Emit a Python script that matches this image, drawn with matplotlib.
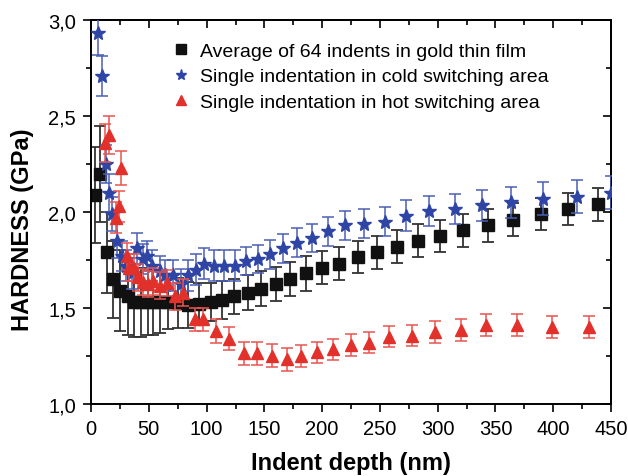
import matplotlib.pyplot as plt
from matplotlib.lines import Line2D
from matplotlib.ticker import MultipleLocator, FuncFormatter

plt.rcParams["font.family"] = ["Liberation Sans", "DejaVu Sans"]

# average of 64 indents (black squares)
avg_x = [3.5, 7.8, 13.8, 19, 25, 32, 37, 43, 49, 54, 60, 67, 75, 84, 93.5, 104, 113.5, 124,
         136, 147, 160, 172, 186, 200, 215, 231, 247.5, 265, 283, 302, 322, 343.5, 365, 389, 413, 439]
avg_y = [2.09, 2.20, 1.79, 1.65, 1.59, 1.56, 1.53, 1.53, 1.53, 1.53, 1.53, 1.53, 1.525, 1.515,
         1.52, 1.53, 1.54, 1.56, 1.58, 1.60, 1.625, 1.65, 1.68, 1.71, 1.73, 1.765, 1.79, 1.82,
         1.85, 1.875, 1.905, 1.93, 1.96, 1.99, 2.015, 2.04]
avg_err = [0.25, 0.25, 0.21, 0.20, 0.21, 0.20, 0.18, 0.18, 0.17, 0.17, 0.16, 0.14, 0.13, 0.12,
           0.11, 0.10, 0.10, 0.09, 0.09, 0.09, 0.09, 0.09, 0.09, 0.085, 0.085, 0.085, 0.085,
           0.085, 0.085, 0.085, 0.085, 0.085, 0.085, 0.085, 0.085, 0.085]

# single indentation, cold switching area (blue stars)
cold_x = [6.1, 9.6, 13, 15.6, 18, 22.5, 26.5, 30, 35.5, 40, 45, 48, 53, 60, 64, 71, 78, 84, 91,
          98, 106, 115, 124.6, 134, 144.5, 155, 166, 178, 191, 205, 220, 236, 254.5, 272.6,
          292.5, 315, 338, 363, 391, 420.5, 450]
cold_y = [2.93, 2.71, 2.25, 2.10, 1.99, 1.85, 1.77, 1.72, 1.68, 1.81, 1.755, 1.77, 1.72, 1.69,
          1.67, 1.67, 1.625, 1.67, 1.70, 1.73, 1.72, 1.72, 1.72, 1.745, 1.755, 1.78, 1.81, 1.84,
          1.865, 1.90, 1.93, 1.94, 1.95, 1.98, 2.005, 2.015, 2.035, 2.05, 2.07, 2.08, 2.10]
cold_err = [0.11, 0.105, 0.10, 0.10, 0.09, 0.09, 0.08, 0.08, 0.08, 0.08, 0.08, 0.08, 0.08, 0.08,
            0.08, 0.08, 0.08, 0.08, 0.08, 0.08, 0.08, 0.08, 0.08, 0.075, 0.075, 0.075, 0.075,
            0.075, 0.075, 0.075, 0.075, 0.075, 0.075, 0.08, 0.08, 0.08, 0.08, 0.08, 0.085,
            0.085, 0.085]

# single indentation, hot switching area (red triangles)
hot_x = [12, 15.6, 21.5, 24, 26, 31, 33, 37, 41, 45, 49, 54, 60, 66, 73, 79.5, 90, 97, 108,
         119.5, 132, 143.6, 156.6, 169.6, 181.7, 195.6, 209.5, 225, 240.6, 258, 278, 297.7,
         320, 342, 368.6, 399, 431]
hot_y = [2.36, 2.40, 1.97, 2.03, 2.23, 1.77, 1.71, 1.71, 1.66, 1.635, 1.625, 1.64, 1.615, 1.63,
         1.56, 1.58, 1.44, 1.44, 1.38, 1.34, 1.265, 1.265, 1.25, 1.234, 1.25, 1.27, 1.286,
         1.307, 1.32, 1.35, 1.355, 1.375, 1.385, 1.41, 1.41, 1.40, 1.40]
hot_err = [0.10, 0.10, 0.08, 0.08, 0.09, 0.07, 0.07, 0.07, 0.07, 0.07, 0.07, 0.07, 0.07, 0.07,
           0.07, 0.07, 0.06, 0.06, 0.06, 0.06, 0.06, 0.06, 0.06, 0.06, 0.055, 0.055, 0.055,
           0.055, 0.055, 0.055, 0.055, 0.055, 0.055, 0.058, 0.058, 0.058, 0.058]

labels = ["Average of 64 indents in gold thin film",
          "Single indentation in cold switching area",
          "Single indentation in hot switching area"]

BLACK = "#111111"
BLUE = "#2e45a6"
RED = "#e2312a"

fig = plt.figure(figsize=(6.28, 4.77), dpi=100)
ax = fig.add_axes([0.145, 0.151, 0.828, 0.805])

ax.errorbar(avg_x, avg_y, yerr=avg_err, fmt="s", color=BLACK, ecolor="#333333",
            markersize=8, elinewidth=1.3, capsize=4.5, capthick=1.3, zorder=2)
ax.errorbar(cold_x, cold_y, yerr=cold_err, fmt="*", color=BLUE, ecolor="#4a5fb5",
            markersize=10, elinewidth=1.1, capsize=4.5, capthick=1.1, zorder=3)
ax.errorbar(hot_x, hot_y, yerr=hot_err, fmt="^", color=RED, ecolor="#e8554f",
            markersize=8.5, elinewidth=1.1, capsize=4.5, capthick=1.1, zorder=4)

ax.set_xlim(0, 450)
ax.set_ylim(1.0, 3.0)
ax.xaxis.set_major_locator(MultipleLocator(50))
ax.xaxis.set_minor_locator(MultipleLocator(25))
ax.yaxis.set_major_locator(MultipleLocator(0.5))
ax.yaxis.set_minor_locator(MultipleLocator(0.25))
ax.yaxis.set_major_formatter(FuncFormatter(lambda v, p: f"{v:.1f}".replace(".", ",")))

ax.tick_params(axis="both", which="major", labelsize=14.5, length=6, width=1.2,
               direction="out", pad=5)
ax.tick_params(axis="both", which="minor", length=3.5, width=1.2, direction="out")
for spine in ax.spines.values():
    spine.set_linewidth(1.4)

# top and right: ticks point inward, no labels
top = ax.secondary_xaxis("top")
top.xaxis.set_major_locator(MultipleLocator(50))
top.xaxis.set_minor_locator(MultipleLocator(25))
top.tick_params(which="major", direction="in", length=6, width=1.2, labeltop=False)
top.tick_params(which="minor", direction="in", length=3.5, width=1.2)
top.spines["top"].set_linewidth(1.4)
right = ax.secondary_yaxis("right")
right.yaxis.set_major_locator(MultipleLocator(0.5))
right.yaxis.set_minor_locator(MultipleLocator(0.25))
right.tick_params(which="major", direction="in", length=6, width=1.2, labelright=False)
right.tick_params(which="minor", direction="in", length=3.5, width=1.2)
right.spines["right"].set_linewidth(1.4)

ax.set_xlabel("Indent depth (nm)", fontsize=17, fontweight="bold", labelpad=9)
ax.set_ylabel("HARDNESS (GPa)", fontsize=17, fontweight="bold")
ax.yaxis.set_label_coords(-0.11, 0.456)

handles = [
    Line2D([], [], marker="s", color=BLACK, linestyle="none", markersize=6.5),
    Line2D([], [], marker="*", color=BLUE, linestyle="none", markersize=8),
    Line2D([], [], marker="^", color=RED, linestyle="none", markersize=7),
]
ax.legend(handles, labels, loc="upper left", bbox_to_anchor=(0.12, 0.987), frameon=False,
          fontsize=14, handlelength=1.0, handletextpad=0.5, labelspacing=0.4)

fig.savefig("out.png", dpi=100)
